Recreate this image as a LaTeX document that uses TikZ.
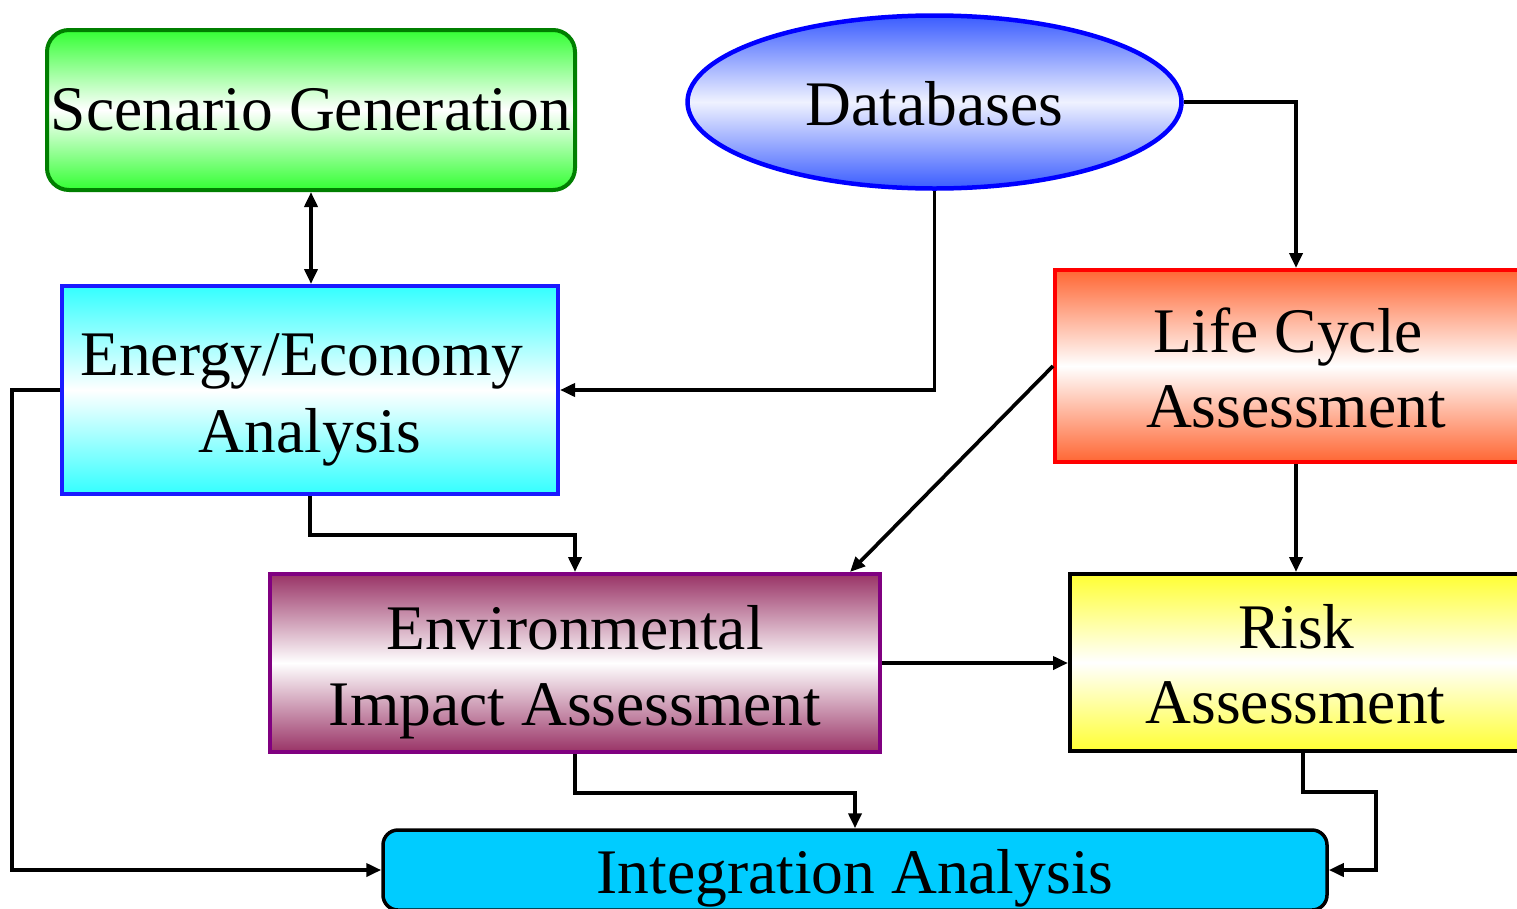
\documentclass[tikz,border=0pt]{standalone}
\usepackage{fontspec}
\setmainfont{Liberation Serif}
\usetikzlibrary{arrows.meta,shapes.geometric,calc}

\definecolor{scengreen}{HTML}{33FF33}
\definecolor{scenborder}{HTML}{007F00}
\definecolor{dbblue}{HTML}{3A5CFF}
\definecolor{dbborder}{HTML}{0000FF}
\definecolor{encyan}{HTML}{33FFFF}
\definecolor{enborder}{HTML}{1A1AFF}
\definecolor{lcaorange}{HTML}{FF6633}
\definecolor{lcaborder}{HTML}{FF0000}
\definecolor{envplum}{HTML}{993366}
\definecolor{envborder}{HTML}{800080}
\definecolor{riskyellow}{HTML}{FFFF33}
\definecolor{integblue}{HTML}{00CCFF}

\begin{document}
\begin{tikzpicture}[x=1pt,y=-1pt,
  box/.style={draw, line width=4pt, inner sep=0pt},
  txt/.style={inner sep=0pt, anchor=base, font=\fontsize{63.5}{77}\selectfont},
  grad/.style={top color=#1, bottom color=#1, middle color=white},
  link/.style={line width=3.7pt, -{Triangle[length=15pt,width=13pt]}},
  twoway/.style={line width=3.7pt, {Triangle[length=15pt,width=13pt]}-{Triangle[length=15pt,width=13pt]}},
]
\clip (0,0) rectangle (1517,908);

% process boxes
\node[box, rounded corners=22pt, draw=scenborder, grad=scengreen,
      minimum width=528pt, minimum height=160pt] (scen) at (311,110) {};
\node[ellipse, draw=dbborder, line width=4.5pt, inner sep=0pt,
      top color=dbblue, bottom color=dbblue, middle color=white!92!dbblue,
      minimum width=494pt, minimum height=173pt] (db) at (934.5,102) {};
\node[box, draw=enborder, grad=encyan,
      minimum width=496pt, minimum height=208pt] (energy) at (310,390) {};
\node[box, draw=lcaborder, grad=lcaorange,
      minimum width=482pt, minimum height=192pt] (lca) at (1296,366) {};
\node[box, draw=envborder, grad=envplum,
      minimum width=610pt, minimum height=178pt] (env) at (575,663) {};
\node[box, draw=black, grad=riskyellow,
      minimum width=451pt, minimum height=177pt] (risk) at (1295.5,662.5) {};
\node[box, draw=black, line width=3.5pt, rounded corners=15pt, fill=integblue,
      minimum width=944pt, minimum height=80pt] (integ) at (855,870) {};

% box labels, placed on their baselines
\node[txt] (scenT) at ([yshift=-20pt]scen.center) {Scenario Generation};
\node[txt] (dbT) at ([yshift=-23pt]db.center) {Databases};
\node[txt] (energyT1) at ([xshift=-8pt,yshift=15pt]energy.center) {Energy/Economy};
\node[txt] (energyT2) at ([yshift=-62pt]energy.center) {Analysis};
\node[txt] (lcaT1) at ([xshift=-8pt,yshift=14pt]lca.center) {Life Cycle};
\node[txt] (lcaT2) at ([yshift=-61pt]lca.center) {Assessment};
\node[txt] (envT1) at ([yshift=14pt]env.center) {Environmental};
\node[txt] (envT2) at ([yshift=-62pt]env.center) {Impact Assessment};
\node[txt] (riskT1) at ([xshift=1pt,yshift=14.5pt]risk.center) {Risk};
\node[txt] (riskT2) at ([yshift=-61pt]risk.center) {Assessment};
\node[txt] (integT) at ([yshift=-23pt]integ.center) {Integration Analysis};

% connectors
\draw[twoway] (scen.south) -- (scen.south |- energy.north);
\draw[link] (db.south) |- (energy.east);
\draw[link] (db.east) -| (lca.north);
\draw[link] (lca.west) -- ([xshift=-32pt]env.north east);
\draw[link] (lca.south) -- (lca.south |- risk.north);
\draw[link] (energy.south) -- ++(0,39) -| (env.north);
\draw[link] (env.east) -- (env.east -| risk.west);
\draw[link] (env.south) -- ++(0,39) -| (integ.north);
\draw[link] ([xshift=7.5pt]risk.south) -- ++(0,39) -- ++(73,0) |- (integ.east);
\draw[link] (energy.west) -- ++(-48,0) |- (integ.west);
\end{tikzpicture}
\end{document}
